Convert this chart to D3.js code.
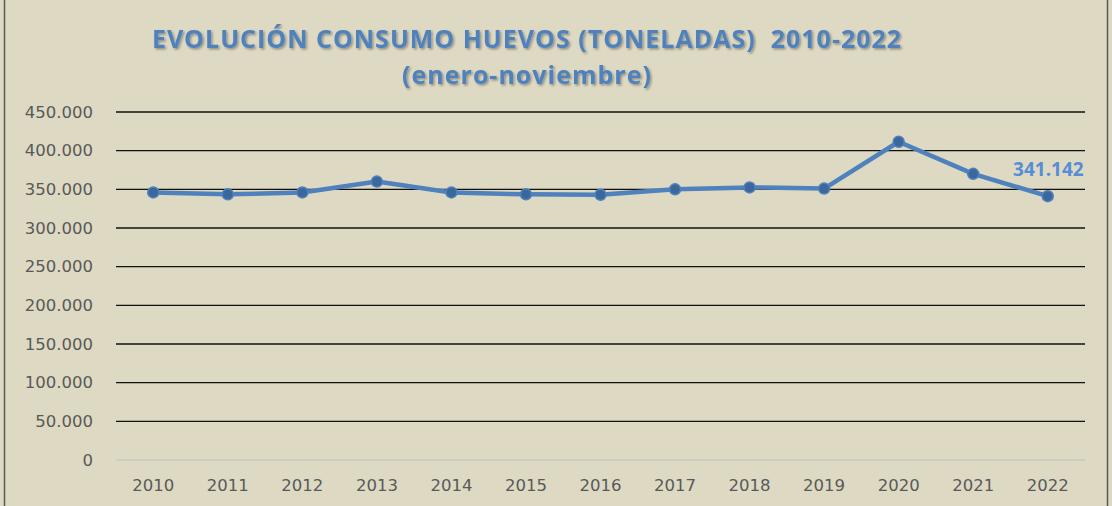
<!DOCTYPE html>
<html>
<head>
<meta charset="utf-8">
<script src="https://cdn.jsdelivr.net/npm/d3@7"></script>
<style>
  html, body { margin: 0; padding: 0; background: #ddd9c3; }
  svg { display: block; }
</style>
</head>
<body>
<div id="chart"></div>
<script>
// Data
const years = ["2010", "2011", "2012", "2013", "2014", "2015", "2016", "2017", "2018", "2019", "2020", "2021", "2022"];
const consumo = [346000, 343500, 346000, 360000, 346000, 343500, 343000, 350000, 352500, 351000, 411500, 370000, 341142];
const yTicks = [0, 50000, 100000, 150000, 200000, 250000, 300000, 350000, 400000, 450000];
const titleLines = ["EVOLUCIÓN CONSUMO HUEVOS (TONELADAS)  2010-2022", "(enero-noviembre)"];

const width = 1112, height = 506;
const margin = { top: 112, right: 27, bottom: 46, left: 116 };

const es = d3.formatLocale({ decimal: ",", thousands: ".", grouping: [3], currency: ["", ""] });
const fmt = es.format(",.0f");

const svg = d3.select("#chart")
  .append("svg")
  .attr("width", width)
  .attr("height", height);

// background + frame
svg.append("rect")
  .attr("x", 0).attr("y", 0)
  .attr("width", width).attr("height", height)
  .attr("fill", "#ddd9c3");
svg.append("rect")
  .attr("x", 4.5).attr("y", -2)
  .attr("width", 1103).attr("height", height + 4)
  .attr("fill", "none")
  .attr("stroke", "#5a5a5a")
  .attr("stroke-width", 1.5);

// shadow for title text
const defs = svg.append("defs");
const f = defs.append("filter").attr("id", "shadow").attr("x", "-5%").attr("y", "-20%").attr("width", "110%").attr("height", "150%");
f.append("feDropShadow")
  .attr("dx", 1.5).attr("dy", 1.5)
  .attr("stdDeviation", 1)
  .attr("flood-color", "#000").attr("flood-opacity", 0.35);

const x = d3.scaleBand()
  .domain(years)
  .range([margin.left, width - margin.right]);

const y = d3.scaleLinear()
  .domain([0, 450000])
  .range([height - margin.bottom, margin.top]);

// gridlines
svg.selectAll(".grid")
  .data(yTicks)
  .enter()
  .append("line")
  .attr("class", "grid")
  .attr("x1", margin.left)
  .attr("x2", width - margin.right)
  .attr("y1", d => y(d))
  .attr("y2", d => y(d))
  .attr("stroke", d => d === 0 ? "#d0ccc0" : "#111")
  .attr("stroke-width", d => d === 0 ? 2 : 1.3);

// y axis labels
const yAxis = d3.axisLeft(y).tickValues(yTicks).tickFormat(fmt).tickSize(0).tickPadding(23);
svg.append("g")
  .attr("transform", `translate(${margin.left},0)`)
  .call(yAxis)
  .call(g => g.select(".domain").remove())
  .selectAll("text")
  .attr("fill", "#595959")
  .style("font-family", "'DejaVu Sans', sans-serif")
  .style("font-size", "16.5px");

// x axis labels
const xAxis = d3.axisBottom(x).tickSize(0).tickPadding(19);
svg.append("g")
  .attr("transform", `translate(0,${height - margin.bottom})`)
  .call(xAxis)
  .call(g => g.select(".domain").remove())
  .selectAll("text")
  .attr("fill", "#595959")
  .style("font-family", "'DejaVu Sans', sans-serif")
  .style("font-size", "16.5px");

// line
const line = d3.line()
  .x((d, i) => x(years[i]) + x.bandwidth() / 2)
  .y(d => y(d));

svg.append("path")
  .datum(consumo)
  .attr("d", line)
  .attr("fill", "none")
  .attr("stroke", "#4f81bd")
  .attr("stroke-width", 4.5)
  .attr("stroke-linejoin", "round");

// markers
svg.selectAll(".dot")
  .data(consumo)
  .enter()
  .append("circle")
  .attr("class", "dot")
  .attr("cx", (d, i) => x(years[i]) + x.bandwidth() / 2)
  .attr("cy", d => y(d))
  .attr("r", 5.5)
  .attr("fill", "#3a679c")
  .attr("stroke", "#4f81bd")
  .attr("stroke-width", 1.5);

// label on last point
const last = consumo.length - 1;
svg.append("text")
  .attr("x", x(years[last]) + x.bandwidth() / 2 + 36)
  .attr("y", y(consumo[last]) - 20)
  .attr("text-anchor", "end")
  .attr("fill", "#558ed5")
  .style("font-family", "'Open Sans', sans-serif")
  .style("font-weight", "bold")
  .style("font-size", "19px")
  .text(fmt(consumo[last]));

// title, two lines
svg.append("g")
  .attr("filter", "url(#shadow)")
  .selectAll("text")
  .data(titleLines)
  .enter()
  .append("text")
  .attr("x", 527)
  .attr("y", (d, i) => 48 + i * 36)
  .attr("text-anchor", "middle")
  .attr("fill", "#4f81bd")
  .style("font-family", "'Open Sans', sans-serif")
  .style("font-weight", "bold")
  .style("font-size", "25px")
  .style("letter-spacing", "1px")
  .style("white-space", "pre")
  .text(d => d);
</script>
</body>
</html>
